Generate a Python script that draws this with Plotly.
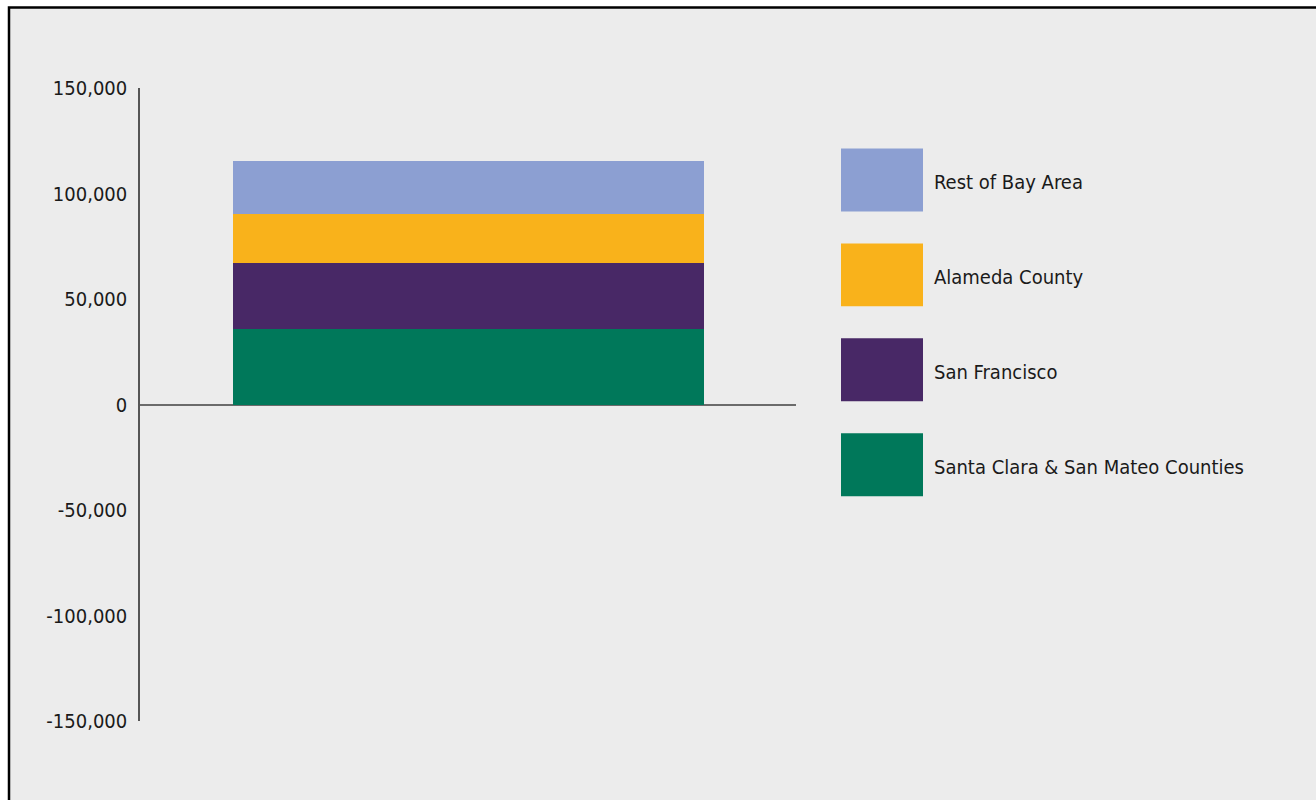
import plotly.graph_objects as go

# ---- data ----
categories = ["Total"]
series_names = ["Santa Clara & San Mateo Counties", "San Francisco", "Alameda County", "Rest of Bay Area"]
series_values = [[36000], [31000], [23400], [24900]]
series_colors = ["#00785a", "#482866", "#f9b21b", "#8c9fd2"]
tick_vals = [-150000, -100000, -50000, 0, 50000, 100000, 150000]
tick_text = ["-150,000", "-100,000", "-50,000", "0", "50,000", "100,000", "150,000"]

FONT = "Liberation Sans Narrow, DejaVu Sans Condensed, Liberation Sans, sans-serif"
W, H = 1316, 800
L, R, T, B = 140, 796, 87.5, 721  # plot area in pixels

def px(x):
    return (x - L) / (R - L)

def py(y):
    return (B - y) / (B - T)

fig = go.Figure()
for name, vals, col in zip(series_names, series_values, series_colors):
    fig.add_trace(go.Bar(x=categories, y=vals, name=name, marker=dict(color=col, line=dict(width=0)),
                         width=0.718, showlegend=False))

shapes = [
    # background panel with black top/left border
    dict(type="rect", xref="paper", yref="paper", x0=px(9), x1=px(W + 20), y0=py(H + 20), y1=py(7),
         fillcolor="#ececec", line=dict(color="black", width=2.5), layer="below"),
]
annotations = []
# custom legend (top item = last series)
for i, (name, col) in enumerate(zip(reversed(series_names), reversed(series_colors))):
    top = 148 + 95 * i
    shapes.append(dict(type="rect", xref="paper", yref="paper", x0=px(841), x1=px(923),
                       y0=py(top + 63), y1=py(top), fillcolor=col, line=dict(width=0)))
    annotations.append(dict(xref="paper", yref="paper", x=px(932), y=py(top + 34), text=name,
                            showarrow=False, xanchor="left", yanchor="middle",
                            font=dict(family=FONT, size=20, color="#1a1a1a")))

fig.update_layout(
    width=W, height=H, barmode="stack",
    paper_bgcolor="white", plot_bgcolor="rgba(0,0,0,0)",
    margin=dict(l=L, r=W - R, t=T, b=H - B, pad=0),
    shapes=shapes, annotations=annotations,
    xaxis=dict(showticklabels=False, showgrid=False, zeroline=False, showline=False, range=[-0.5, 0.5]),
    yaxis=dict(range=[-150000, 150000], tickvals=tick_vals, ticktext=tick_text, showgrid=False,
               zeroline=True, zerolinecolor="#6b6b6b", zerolinewidth=2,
               showline=True, linecolor="#555555", linewidth=1.5, ticks="", ticklabelstandoff=7,
               tickfont=dict(family=FONT, size=20, color="#1a1a1a")),
    font=dict(family=FONT),
)
fig.write_html("out.html")
